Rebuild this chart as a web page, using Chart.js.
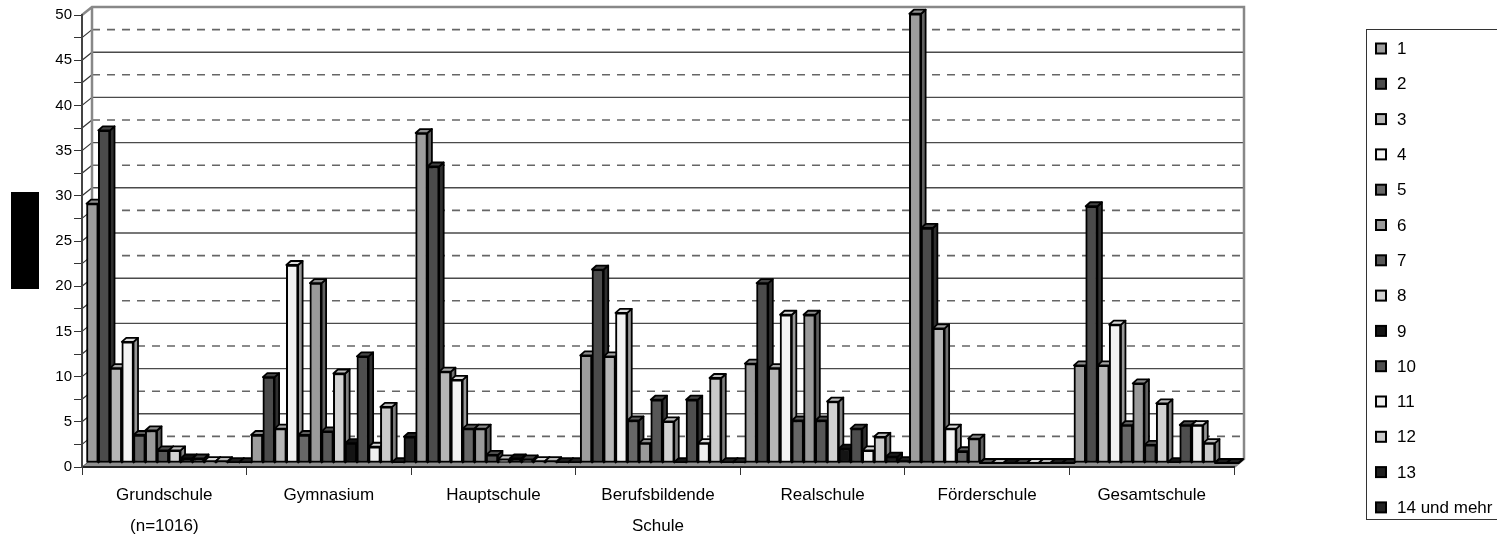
<!DOCTYPE html>
<html>
<head>
<meta charset="utf-8">
<script src="https://cdn.jsdelivr.net/npm/chart.js@4.4.1/dist/chart.umd.min.js"></script>
<style>
  html, body { margin: 0; padding: 0; background: #fff; }
  #wrap { width: 1497px; height: 536px; position: relative; }
</style>
</head>
<body>
<div id="wrap"><canvas id="c" width="1497" height="536"></canvas></div>
<script>
// School types on the x axis
const categories = [
  ['Grundschule', '(n=1016)'],
  'Gymnasium',
  'Hauptschule',
  ['Berufsbildende', 'Schule'],
  'Realschule',
  'Förderschule',
  'Gesamtschule'
];

// Series (legend entries) and their fills
const seriesNames = ['1', '2', '3', '4', '5', '6', '7', '8', '9', '10', '11', '12', '13', '14 und mehr'];
const seriesColors = ['#9d9d9d', '#4b4b4b', '#b6b6b6', '#f3f3f3', '#676767', '#9a9a9a', '#575757',
                      '#d2d2d2', '#141414', '#4e4e4e', '#efefef', '#cacaca', '#1f1f1f', '#232323'];

// Percentages per school type, one value per series
const grundschule    = [28.7, 36.8, 10.5, 13.4, 3.1, 3.6, 1.4, 1.4, 0.5, 0.5, 0.2, 0.2, 0.1, 0.1];
const gymnasium      = [3.1, 9.5, 3.8, 21.9, 3.1, 19.9, 3.5, 9.9, 2.2, 11.8, 1.8, 6.2, 0.1, 2.9];
const hauptschule    = [36.5, 32.8, 10.1, 9.2, 3.8, 3.8, 0.9, 0.4, 0.5, 0.4, 0.2, 0.2, 0.1, 0.1];
const berufsbildende = [11.9, 21.4, 11.8, 16.6, 4.7, 2.2, 7.0, 4.6, 0.1, 7.0, 2.2, 9.4, 0.1, 0.1];
const realschule     = [11.0, 19.9, 10.5, 16.4, 4.7, 16.4, 4.7, 6.8, 1.6, 3.8, 1.4, 2.9, 0.7, 0.2];
const foerderschule  = [49.7, 26.0, 14.9, 3.8, 1.3, 2.7, 0, 0, 0, 0, 0, 0, 0, 0];
const gesamtschule   = [10.8, 28.4, 10.8, 15.3, 4.2, 8.8, 2.0, 6.6, 0.1, 4.2, 4.2, 2.2, 0, 0];

const schoolValues = [grundschule, gymnasium, hauptschule, berufsbildende, realschule, foerderschule, gesamtschule];

// Value axis
const yMin = 0;
const yMax = 50;
const yStep = 2.5;
const yLabelEvery = 5;

// 3D geometry: wall depth, bar shift from front plane, bar depth
const WALL = { dx: 10, dy: -8 };
const BAR_SHIFT = { dx: 4.5, dy: -4 };
const BAR_DEPTH = { dx: 4.5, dy: -4 };

const FONT = '"Liberation Sans", Arial, sans-serif';

function shade(hex, f) {
  const n = parseInt(hex.slice(1), 16);
  const r = Math.round(((n >> 16) & 255) * f);
  const g = Math.round(((n >> 8) & 255) * f);
  const b = Math.round((n & 255) * f);
  return `rgb(${r},${g},${b})`;
}

const datasets = seriesNames.map((name, i) => ({
  label: name,
  data: schoolValues.map(row => row[i]),
  backgroundColor: seriesColors[i],
  borderColor: '#000',
  borderWidth: 2,
  borderSkipped: false
}));

// Back wall, side wall, floor and gridlines in perspective
const wallsPlugin = {
  id: 'walls',
  beforeDraw(chart) {
    const { ctx, chartArea: { left, right, top, bottom }, scales: { y } } = chart;
    ctx.save();
    ctx.fillStyle = '#fff';
    ctx.fillRect(0, 0, chart.width, chart.height);

    // floor
    ctx.beginPath();
    ctx.moveTo(left, bottom);
    ctx.lineTo(right, bottom);
    ctx.lineTo(right + WALL.dx, bottom + WALL.dy);
    ctx.lineTo(left + WALL.dx, bottom + WALL.dy);
    ctx.closePath();
    ctx.fillStyle = '#8f8f8f';
    ctx.fill();
    ctx.strokeStyle = '#555';
    ctx.lineWidth = 1;
    ctx.stroke();

    // gridlines on the back wall and the side wall
    y.ticks.forEach(t => {
      if (t.value <= yMin || t.value >= yMax) return;
      const py = y.getPixelForValue(t.value);
      const major = t.value % yLabelEvery === 0;
      ctx.beginPath();
      ctx.setLineDash(major ? [] : [8, 7]);
      ctx.strokeStyle = major ? '#4a4a4a' : '#666';
      ctx.lineWidth = major ? 1.4 : 1.6;
      ctx.moveTo(left + WALL.dx, py + WALL.dy);
      ctx.lineTo(right + WALL.dx, py + WALL.dy);
      ctx.stroke();
      ctx.setLineDash([]);
      ctx.beginPath();
      ctx.strokeStyle = '#333';
      ctx.lineWidth = 1.2;
      ctx.moveTo(left, py);
      ctx.lineTo(left + WALL.dx, py + WALL.dy);
      ctx.stroke();
    });

    // wall outlines
    ctx.strokeStyle = '#888';
    ctx.lineWidth = 2.5;
    ctx.beginPath();
    ctx.moveTo(left, top);
    ctx.lineTo(left + WALL.dx, top + WALL.dy);
    ctx.lineTo(right + WALL.dx, top + WALL.dy);
    ctx.lineTo(right + WALL.dx, bottom + WALL.dy);
    ctx.lineTo(right, bottom);
    ctx.moveTo(left + WALL.dx, top + WALL.dy);
    ctx.lineTo(left + WALL.dx, bottom + WALL.dy);
    ctx.stroke();
    ctx.restore();
  }
};

// Bars drawn category by category, left to right, with top and side faces
const bars3dPlugin = {
  id: 'bars3d',
  beforeDatasetsDraw(chart) {
    const ctx = chart.ctx;
    const metas = chart.data.datasets.map((d, i) => chart.getDatasetMeta(i));
    ctx.save();
    ctx.translate(BAR_SHIFT.dx, BAR_SHIFT.dy);
    ctx.lineJoin = 'round';
    for (let j = 0; j < categories.length; j++) {
      metas.forEach((meta, i) => {
        const el = meta.data[j];
        if (!el) return;
        const { x, y, base, width } = el.getProps(['x', 'y', 'base', 'width'], true);
        const xl = x - width / 2;
        const xr = x + width / 2;
        const col = seriesColors[i];
        if (Math.abs(base - y) > 0.5) el.draw(ctx);
        ctx.lineWidth = 1.8;
        ctx.strokeStyle = '#000';
        // side face
        ctx.beginPath();
        ctx.moveTo(xr, y);
        ctx.lineTo(xr + BAR_DEPTH.dx, y + BAR_DEPTH.dy);
        ctx.lineTo(xr + BAR_DEPTH.dx, base + BAR_DEPTH.dy);
        ctx.lineTo(xr, base);
        ctx.closePath();
        ctx.fillStyle = shade(col, 0.62);
        ctx.fill();
        ctx.stroke();
        // top face
        ctx.beginPath();
        ctx.moveTo(xl, y);
        ctx.lineTo(xl + BAR_DEPTH.dx, y + BAR_DEPTH.dy);
        ctx.lineTo(xr + BAR_DEPTH.dx, y + BAR_DEPTH.dy);
        ctx.lineTo(xr, y);
        ctx.closePath();
        ctx.fillStyle = shade(col, 0.9);
        ctx.fill();
        ctx.stroke();
      });
    }
    ctx.restore();
    return false;
  }
};

// Legend box on the right and the dark box left of the value axis
const legendPlugin = {
  id: 'sideLegend',
  afterDraw(chart) {
    const ctx = chart.ctx;
    ctx.save();
    ctx.fillStyle = '#000';
    ctx.fillRect(11, 192, 28, 97);

    ctx.strokeStyle = '#333';
    ctx.lineWidth = 1;
    ctx.strokeRect(1366.5, 29.5, 200, 490);
    ctx.font = '17px ' + FONT;
    ctx.textBaseline = 'middle';
    ctx.textAlign = 'left';
    seriesNames.forEach((name, i) => {
      const cy = 48.5 + i * 35.3;
      ctx.fillStyle = seriesColors[i];
      ctx.fillRect(1376, cy - 5, 10, 10);
      ctx.strokeStyle = '#000';
      ctx.lineWidth = 2;
      ctx.strokeRect(1376, cy - 5, 10, 10);
      ctx.fillStyle = '#000';
      ctx.fillText(name, 1397, cy + 1);
    });
    ctx.restore();
  }
};

new Chart(document.getElementById('c'), {
  type: 'bar',
  data: { labels: categories, datasets },
  plugins: [wallsPlugin, bars3dPlugin, legendPlugin],
  options: {
    responsive: false,
    animation: false,
    devicePixelRatio: 1,
    layout: { padding: { left: 0, top: 15, right: 263, bottom: 0 } },
    datasets: { bar: { categoryPercentage: 1.0, barPercentage: 1.0 } },
    plugins: { legend: { display: false }, title: { display: false }, tooltip: { enabled: false } },
    scales: {
      x: {
        type: 'category',
        afterFit(s) { s.height = 69; },
        grid: { offset: true, drawOnChartArea: false, drawTicks: true, tickLength: 8, color: '#333', lineWidth: 1 },
        border: { display: true, color: '#222', width: 2 },
        ticks: {
          autoSkip: false, maxRotation: 0, minRotation: 0, padding: 5, color: '#000',
          font: { family: FONT, size: 17, lineHeight: 1.8 }
        }
      },
      y: {
        min: yMin, max: yMax,
        afterFit(s) { s.width = 82; },
        grid: { drawOnChartArea: false, drawTicks: true, tickLength: 8, color: '#333', lineWidth: 1 },
        border: { display: true, color: '#444', width: 2 },
        ticks: {
          stepSize: yStep, padding: 2, color: '#000',
          font: { family: FONT, size: 15 },
          callback: v => (v % yLabelEvery === 0 ? v : '')
        }
      }
    }
  }
});
</script>
</body>
</html>
